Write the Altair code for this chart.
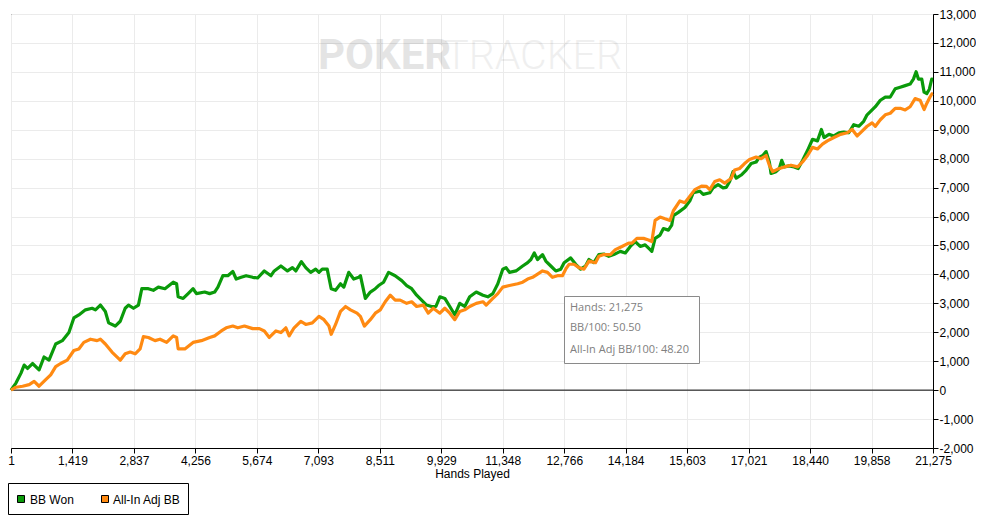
import altair as alt
import pandas as pd

# ---------------- data ----------------
SERIES = ["BB Won", "All-In Adj BB"]
COLORS = ["#0a9a0a", "#ff8a12"]

GREEN_HANDS = [
    1, 115, 229, 305, 383, 497, 649, 763, 878, 1032, 1185, 1337, 1451, 1566, 1719,
    1873, 1949, 2063, 2178, 2254, 2407, 2522, 2636, 2712, 2827, 2941, 3019, 3171, 3285, 3400,
    3553, 3744, 3822, 3858, 3973, 4088, 4202, 4280, 4470, 4585, 4700, 4775, 4890, 5004, 5119,
    5197, 5312, 5426, 5578,
    5692, 5846, 5999, 6075, 6229, 6380, 6495, 6573, 6701, 6802, 6916, 7031, 7107, 7182, 7297,
    7389, 7490, 7604, 7680, 7795, 7909, 8024, 8063, 8177, 8292, 8407, 8483, 8597, 8712, 8865,
    9017, 9131, 9246, 9361, 9475, 9590, 9704, 9805, 9897, 10011, 10126, 10241, 10355, 10470, 10585,
    10736, 10890,
    11004, 11119, 11234, 11348, 11424, 11502, 11653, 11807, 11922, 11997, 12075, 12150, 12265, 12341, 12456,
    12571, 12685, 12763, 12916, 13031, 13143, 13258, 13336, 13450, 13565, 13680, 13794, 13909, 14060, 14175,
    14290, 14404, 14519, 14633, 14748, 14787, 14863, 14977, 15055, 15170, 15246, 15284, 15399, 15550, 15665,
    15742, 15895, 15972, 16124,
    16201, 16316, 16431, 16507, 16583, 16660, 16736, 16850, 16965, 17080, 17194, 17270, 17348, 17423, 17499,
    17538, 17653, 17729, 17784, 17845, 17957, 18072, 18164, 18265, 18379, 18494, 18609, 18700, 18760, 18875,
    18989, 19104, 19218, 19332, 19447, 19562, 19676, 19754, 19830, 19945, 20060, 20174, 20289, 20403, 20518,
    20633, 20747, 20823, 20885, 20938, 21016, 21069, 21131, 21191, 21246, 21275,
]
GREEN_BB = [
    0, 245, 580, 865, 750, 920, 700, 1145, 1035, 1595, 1710, 1990, 2495, 2600, 2775,
    2830, 2775, 2940, 2720, 2325, 2215, 2380, 2830, 2940, 2830, 2940, 3505, 3505, 3450, 3560,
    3505, 3730, 3675, 3225, 3170, 3335, 3505, 3335, 3390, 3335, 3390, 3560, 3955, 3955, 4100,
    3840, 3900, 3955, 3900,
    3875, 4120, 3955, 4120, 4290, 4120, 4235, 4120, 4440, 4235, 4070, 4180, 4070, 4180, 4180,
    3505, 3450, 3675, 3560, 4070, 3840, 3900, 3955, 3170, 3390, 3505, 3615, 3730, 4070, 3955,
    3785, 3615, 3505, 3280, 3110, 2940, 2890, 2890, 3225, 3170, 2890, 2605, 3000, 2890, 3225,
    3390, 3280,
    3225, 3335, 3675, 4180, 4235, 4070, 4120, 4290, 4405, 4515, 4740, 4515, 4685, 4460, 4290,
    4120, 4180, 4405, 4570, 4350, 4180, 4290, 4515, 4405, 4685, 4705, 4625, 4685, 4795, 4740,
    4965, 5135, 4965, 5020, 4855, 4795, 5245, 5360, 5585, 5530, 5700, 6030, 6145, 6310, 6540,
    6820, 6875, 6765, 6820,
    6990, 7100, 6990, 7010, 7210, 7550, 7325, 7435, 7605, 7830, 7885, 8055, 8110, 8245, 7885,
    7490, 7550, 7660, 7940, 7715, 7750, 7715, 7660, 7940, 8280, 8670, 8615, 9010, 8730, 8840,
    8785, 8895, 8920, 8895, 9175, 9120, 9290, 9515, 9625, 9795, 10020, 10130, 10130, 10415, 10470,
    10525, 10580, 10750, 11005, 10750, 10750, 10300, 10250, 10400, 10750, 10744,
]

ORANGE_HANDS = [
    1, 115, 268, 420, 535, 649, 802, 917, 1032, 1146, 1299, 1451, 1566, 1681, 1834,
    1987, 2063, 2178, 2331, 2522, 2636, 2751, 2866, 2980, 3056, 3171, 3324, 3439, 3592, 3744,
    3822, 3858, 4012, 4202, 4394, 4585, 4700, 4853, 4967, 5119, 5234, 5388, 5578,
    5732, 5846, 5961, 6114, 6229, 6343, 6419, 6534, 6687, 6802, 6954, 7107, 7222, 7337, 7389,
    7490, 7604, 7719, 7834, 7985, 8063, 8155, 8292, 8407, 8521, 8636, 8751, 8865, 8980, 9131,
    9246, 9361, 9515, 9629, 9744, 9897, 10011, 10126, 10241, 10355, 10470, 10585, 10736, 10890,
    10965, 11119, 11234, 11348, 11502, 11692, 11807, 11922, 12036, 12151, 12265, 12380, 12495, 12609, 12724,
    12800, 12876, 12991, 13106, 13221, 13336, 13487, 13565, 13680, 13831, 13946, 14099, 14252, 14328, 14443,
    14597, 14711, 14787, 14863, 14977, 15092, 15207, 15284, 15435, 15550, 15665, 15780, 15934,
    16048, 16124, 16239, 16354, 16469, 16622, 16698, 16812, 16927, 17042, 17194, 17309, 17424, 17499, 17577,
    17692, 17845, 17998, 18152, 18265, 18380, 18494, 18609, 18724, 18838, 18989, 19143, 19296, 19411, 19526,
    19640, 19754, 19869, 19945, 20060, 20174, 20289, 20403, 20518, 20633, 20747, 20862, 20977, 21069, 21131,
    21206, 21252, 21275,
]
ORANGE_BB = [
    0, 100, 135, 190, 300, 135, 360, 530, 810, 920, 1035, 1370, 1425, 1650, 1760,
    1710, 1760, 1595, 1315, 1035, 1255, 1315, 1255, 1425, 1850, 1820, 1710, 1760, 1650, 1875,
    1820, 1425, 1425, 1650, 1710, 1820, 1875, 2045, 2155, 2215, 2155, 2215, 2125,
    2125, 2045, 1820, 2045, 1990, 2155, 1875, 2155, 2380, 2270, 2325, 2550, 2435, 2215, 1930,
    2270, 2720, 2890, 2775, 2660, 2550, 2215, 2435, 2660, 2775, 3055, 3280, 3110, 3110, 3000,
    3055, 2890, 2940, 2660, 2830, 2660, 2830, 2660, 2435, 2720, 2775, 2890, 3000, 3055,
    2940, 3170, 3335, 3560, 3615, 3675, 3730, 3840, 3900, 4010, 4120, 4070, 3900, 3955, 3955,
    4180, 4350, 4350, 4235, 4180, 4460, 4405, 4625, 4685, 4685, 4855, 4965, 5080, 5080, 5245,
    5245, 5190, 5135, 5865, 5980, 5920, 5865, 6200, 6540, 6480, 6705, 6930, 7050,
    7040, 6930, 7210, 7270, 7155, 7325, 7605, 7660, 7830, 7975, 8055, 8000, 8110, 7775, 7550,
    7640, 7715, 7775, 7715, 7885, 8110, 8390, 8335, 8500, 8615, 8730, 8840, 8895, 9010, 8785,
    8955, 9120, 9235, 9120, 9345, 9515, 9570, 9740, 9740, 9685, 9795, 10075, 10020, 9700, 9910,
    10130, 10245, 10255,
]

X_TICKS = [1, 1419, 2837, 4256, 5674, 7093, 8511, 9929, 11348, 12766,
           14184, 15603, 17021, 18440, 19858, 21275]
Y_TICKS = list(range(-2000, 13001, 1000))
TOOLTIP_LINES = ["Hands: 21,275", "BB/100: 50.50", "All-In Adj BB/100: 48.20"]
WATERMARK = ["POKER", "TRACKER"]

# ---------------- chart ----------------
W, H = 922, 434
AXIS_FONT = "Liberation Sans"
label_expr = "replace(format(datum.value, ',d'), '\u2212', '-')"

green_df = pd.DataFrame({"hands": GREEN_HANDS, "bb": GREEN_BB, "series": SERIES[0]})
orange_df = pd.DataFrame({"hands": ORANGE_HANDS, "bb": ORANGE_BB, "series": SERIES[1]})

x_axis = alt.Axis(
    values=X_TICKS, labelExpr=label_expr, title="Hands Played",
    labelFlush=False, labelOverlap=False, grid=True, gridColor="#ebebeb",
    tickSize=5, tickColor="black", domainColor="black",
    labelFont=AXIS_FONT, labelFontSize=12, labelColor="black", labelPadding=2,
    titleFont=AXIS_FONT, titleFontSize=12, titleFontWeight="normal",
    titleColor="black", titlePadding=2,
)
y_axis = alt.Axis(
    orient="right", values=Y_TICKS, tickCount=16, labelExpr=label_expr, title=None,
    labelFlush=False, labelOverlap=False, grid=True, gridColor="#ebebeb",
    tickSize=5, tickColor="black", domainColor="black",
    labelFont=AXIS_FONT, labelFontSize=12, labelColor="black", labelPadding=1,
)
x_scale = alt.Scale(domain=[1, 21275], nice=False, zero=False)
y_scale = alt.Scale(domain=[-2000, 13000], nice=False, zero=False)


def X():
    return alt.X("hands:Q", scale=x_scale, axis=x_axis)


def Y():
    return alt.Y("bb:Q", scale=y_scale, axis=y_axis)


one = pd.DataFrame({"k": [0]})

wm_poker = alt.Chart(pd.DataFrame({"t": [WATERMARK[0]]})).mark_text(
    font="Roboto", fontSize=42, fontWeight="bold", color="black", opacity=0.1,
    align="left", baseline="alphabetic",
).encode(text="t:N", x=alt.value(307), y=alt.value(55))
wm_tracker = alt.Chart(pd.DataFrame({"t": [WATERMARK[1]]})).mark_text(
    font="Roboto", fontSize=41, fontWeight=300, color="black", opacity=0.06,
    align="right", baseline="alphabetic",
).encode(text="t:N", x=alt.value(611), y=alt.value(55))

zero_rule = alt.Chart(pd.DataFrame({"bb": [0]})).mark_rule(
    color="black", strokeWidth=1
).encode(y=Y())

green_line = alt.Chart(green_df).mark_line(
    color=COLORS[0], strokeWidth=3.2, strokeJoin="round"
).encode(x=X(), y=Y())
orange_line = alt.Chart(orange_df).mark_line(
    color=COLORS[1], strokeWidth=3.2, strokeJoin="round"
).encode(x=X(), y=Y())

# hover box (fixed position annotation)
tip_box = alt.Chart(one).mark_rect(
    fill="white", stroke="#8a8a8a", strokeWidth=1
).encode(x=alt.value(553.5), x2=alt.value(688.5), y=alt.value(282.5), y2=alt.value(349.5))
tip_layers = []
for txt, yv in zip(TOOLTIP_LINES, [293.5, 314, 335.5]):
    tip_layers.append(
        alt.Chart(pd.DataFrame({"t": [txt]})).mark_text(
            font="Open Sans", fontSize=11, color="#808080",
            align="left", baseline="middle",
        ).encode(text="t:N", x=alt.value(559), y=alt.value(yv))
    )

# legend (drawn below the plot area)
leg_box = alt.Chart(one).mark_rect(
    fill="white", stroke="black", strokeWidth=1
).encode(x=alt.value(-2.5), x2=alt.value(177.5), y=alt.value(469.5), y2=alt.value(500.5))
leg_sw1 = alt.Chart(one).mark_rect(
    fill=COLORS[0], stroke="black", strokeWidth=1
).encode(x=alt.value(6.5), x2=alt.value(13.5), y=alt.value(481.5), y2=alt.value(488.5))
leg_sw2 = alt.Chart(one).mark_rect(
    fill=COLORS[1], stroke="black", strokeWidth=1
).encode(x=alt.value(90.5), x2=alt.value(97.5), y=alt.value(481.5), y2=alt.value(488.5))
leg_t1 = alt.Chart(pd.DataFrame({"t": [SERIES[0]]})).mark_text(
    font=AXIS_FONT, fontSize=12, color="black", align="left", baseline="middle"
).encode(text="t:N", x=alt.value(19), y=alt.value(485.5))
leg_t2 = alt.Chart(pd.DataFrame({"t": [SERIES[1]]})).mark_text(
    font=AXIS_FONT, fontSize=12, color="black", align="left", baseline="middle"
).encode(text="t:N", x=alt.value(102), y=alt.value(485.5))

chart = alt.layer(
    wm_poker, wm_tracker, zero_rule, green_line, orange_line,
    tip_box, *tip_layers,
    leg_box, leg_sw1, leg_sw2, leg_t1, leg_t2,
).properties(
    width=W, height=H,
    padding={"left": 3, "top": 6, "right": 43, "bottom": 67},
    autosize=alt.AutoSizeParams(type="none"),
    background="white",
).configure_view(
    stroke="black", strokeWidth=1
)

chart.save("out.html", embed_options={"renderer": "svg", "actions": False})
